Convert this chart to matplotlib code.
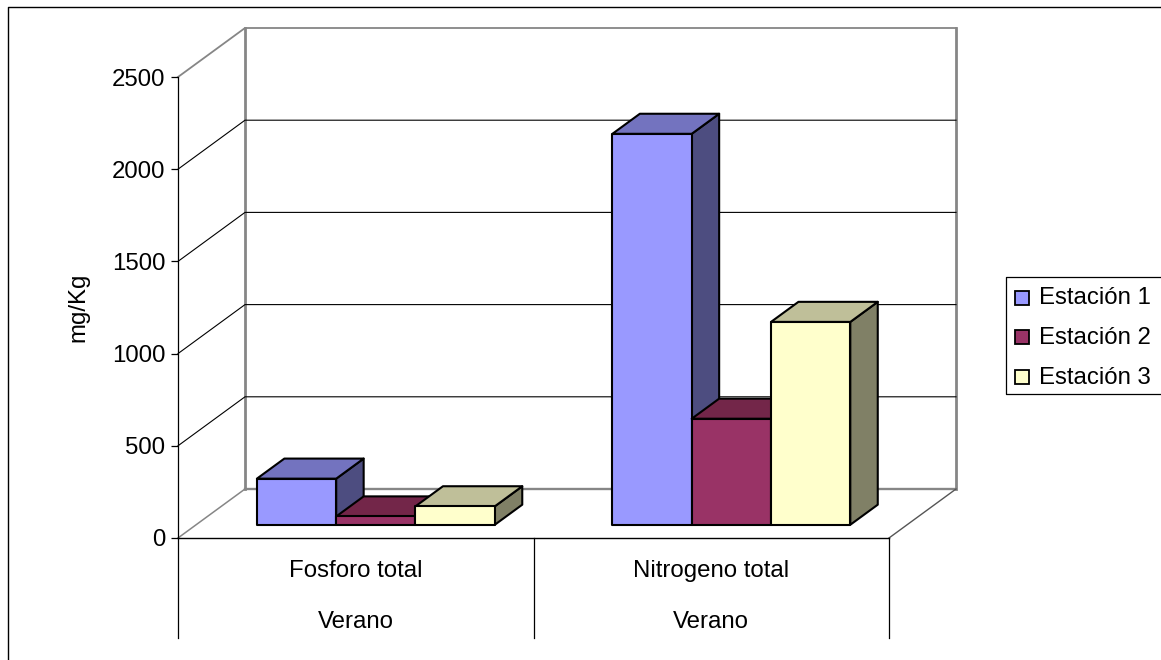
import matplotlib
matplotlib.use('Agg')
import matplotlib.pyplot as plt
from matplotlib.lines import Line2D
from matplotlib.patches import Polygon, Rectangle

plt.rcParams['font.family'] = ['Liberation Sans', 'DejaVu Sans']

categorias = ['Fosforo total', 'Nitrogeno total']
grupo = ['Verano', 'Verano']
estaciones = ['Estación 1', 'Estación 2', 'Estación 3']
fosforo = [250, 45, 100]
nitrogeno = [2120, 575, 1100]
valores = [fosforo, nitrogeno]
colores = ['#9999FF', '#993366', '#FFFFCC']
tapas = ['#7373BF', '#732649', '#BFBF99']
lados = ['#4D4D80', '#4D1933', '#808066']
marcas = [0, 500, 1000, 1500, 2000, 2500]

W, H = 1161, 660
FS = 17.3
fig = plt.figure(figsize=(W / 100, H / 100), dpi=100)

# el eje cubre el plano frontal del grafico
x0, x1, y_top, y_bot = 178, 889, 77, 538
ax = fig.add_axes([x0 / W, 1 - y_bot / H, (x1 - x0) / W, (y_bot - y_top) / H])
ax.set_xlim(0, 2)
ax.set_ylim(0, 2500)
ax.patch.set_alpha(0)
for s in ['top', 'right', 'bottom']:
    ax.spines[s].set_visible(False)
ax.spines['left'].set_linewidth(0.9)
ax.set_xticks([])
ax.set_yticks(marcas)
ax.tick_params(axis='y', labelsize=FS, length=5, width=0.9, pad=4)
ax.set_ylabel('mg/Kg', fontsize=FS, labelpad=16)

px_x = (x1 - x0) / 2
px_y = (y_bot - y_top) / 2500
# profundidad total de la caja en unidades de datos
prof_x = 67 / px_x
prof_y = 49 / px_y


def p3(x, y, z):
    return (x + z * prof_x, y + z * prof_y)


def cara(pts, fc, ec, lw, zo):
    ax.add_patch(Polygon(pts, closed=True, facecolor=fc, edgecolor=ec, linewidth=lw,
                         joinstyle='round', clip_on=False, zorder=zo))


GRIS = '#868686'
# paredes de la caja
ax.plot(*zip(p3(0, 2500, 0), p3(0, 2500, 1), p3(2, 2500, 1)),
        color=GRIS, lw=1.3, clip_on=False, zorder=1)
ax.plot(*zip(p3(0, 0, 0), p3(0, 0, 1)), color=GRIS, lw=1.1, clip_on=False, zorder=1)
ax.plot(*zip(p3(0, 0, 1), p3(0, 2500, 1)), color=GRIS, lw=2.0, clip_on=False, zorder=1)
ax.plot(*zip(p3(2, 0, 1), p3(2, 2500, 1)), color=GRIS, lw=2.0, clip_on=False, zorder=1)
ax.plot(*zip(p3(0, 0, 1), p3(2, 0, 1)), color=GRIS, lw=1.7, clip_on=False, zorder=1)
ax.plot(*zip(p3(2, 0, 0), p3(2, 0, 1)), color='#555555', lw=1.0, clip_on=False, zorder=1)

# lineas de division
for m in marcas[1:-1]:
    ax.plot(*zip(p3(0, m, 0), p3(0, m, 1), p3(2, m, 1)), color='black', lw=0.8,
            clip_on=False, zorder=1.5)

# piso frontal y separadores de categorias
ax.axhline(0, color='black', lw=1.0, clip_on=False, zorder=2)
for xs in [0, 1, 2]:
    ax.plot([xs, xs], [0, -100 / px_y], color='black', lw=0.9, clip_on=False)

# barras
ancho = 79.3 / px_x
margen = 2 / px_x
z_a, z_b = 0.27, 0.68
for i, serie in enumerate(valores):
    for j, v in enumerate(serie):
        izq = i + 0.5 - 1.5 * ancho + j * ancho + margen
        der = izq + ancho
        zo = 3 + i + j * 0.1
        cara([p3(der, 0, z_a), p3(der, 0, z_b), p3(der, v, z_b), p3(der, v, z_a)], lados[j], 'black', 1.5, zo)
        cara([p3(izq, v, z_a), p3(der, v, z_a), p3(der, v, z_b), p3(izq, v, z_b)], tapas[j], 'black', 1.5, zo)
        cara([p3(izq, 0, z_a), p3(der, 0, z_a), p3(der, v, z_a), p3(izq, v, z_a)], colores[j], 'black', 1.5, zo)

# etiquetas de categorias
for i, c in enumerate(categorias):
    fig.text((x0 + (i + 0.5) * px_x) / W, 1 - 571 / H, c, fontsize=FS, ha='center', va='center')
    fig.text((x0 + (i + 0.5) * px_x) / W, 1 - 622 / H, grupo[i], fontsize=FS, ha='center', va='center')

# marco exterior: solo arriba y a la izquierda
fig.add_artist(Line2D([8 / W, 8 / W, 1], [0, 1 - 7 / H, 1 - 7 / H], color='black', lw=1.0))

# leyenda, abierta por la derecha
fig.add_artist(Line2D([1, 1006 / W, 1006 / W, 1], [1 - 276.5 / H, 1 - 276.5 / H, 1 - 394 / H, 1 - 394 / H],
                      color='black', lw=0.9, zorder=5))
for j, e in enumerate(estaciones):
    yc = 297.5 + j * 39.5
    fig.add_artist(Rectangle((1015 / W, 1 - (yc + 7) / H), 14 / W, 14 / H, transform=fig.transFigure,
                             facecolor=colores[j], edgecolor='black', lw=1.3, zorder=6))
    fig.text(1039 / W, 1 - (yc + 1) / H, e, fontsize=FS, ha='left', va='center', zorder=6)

fig.savefig('out.png', dpi=100, facecolor='white')
